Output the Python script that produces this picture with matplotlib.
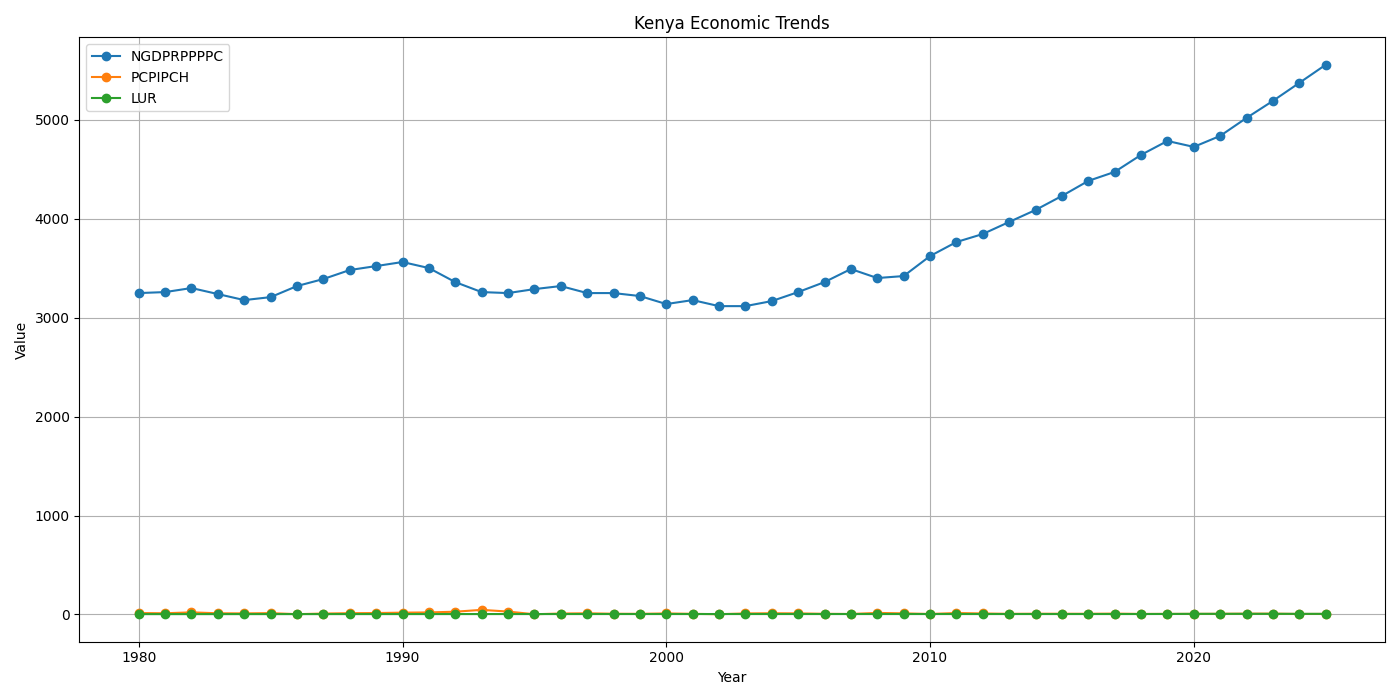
import numpy as np
import matplotlib.pyplot as plt

years = list(range(1980, 2026))

ngdp = [3249, 3259, 3300, 3239, 3178, 3208, 3320, 3391, 3482, 3522,
        3563, 3502, 3360, 3259, 3249, 3289, 3320, 3249, 3249, 3219,
        3138, 3178, 3117, 3117, 3168, 3259, 3360, 3492, 3401, 3421,
        3623, 3765, 3846, 3968, 4089, 4231, 4383, 4474, 4646, 4787,
        4727, 4838, 5020, 5192, 5374, 5557]

pcpi = [13.9, 11.6, 20.7, 11.4, 10.3, 13.0, 2.5, 8.6, 12.3, 13.8,
        17.8, 20.1, 27.3, 46.0, 28.8, 1.6, 9.0, 11.2, 6.6, 5.7,
        10.0, 5.7, 2.0, 9.8, 11.6, 10.3, 6.0, 4.3, 15.1, 10.6,
        4.3, 14.0, 9.4, 5.7, 6.9, 6.6, 6.3, 8.0, 4.7, 5.2,
        5.4, 6.1, 7.6, 7.7, 4.5, 5.0]

lur = [3.0, 3.0, 3.1, 3.1, 3.2, 3.2, 3.3, 3.3, 3.4, 3.4,
       3.5, 3.5, 3.6, 3.6, 3.7, 3.7, 3.8, 3.8, 3.9, 3.9,
       3.9, 3.9, 3.9, 3.9, 3.9, 3.9, 3.9, 3.9, 3.9, 3.9,
       3.9, 3.9, 3.9, 3.9, 3.9, 3.9, 3.9, 3.9, 4.0, 4.5,
       5.6, 5.6, 5.7, 5.6, 5.6, 5.6]

plt.figure(figsize=(14, 7), dpi=100)
plt.plot(years, ngdp, marker='o', label='NGDPRPPPPC')
plt.plot(years, pcpi, marker='o', label='PCPIPCH')
plt.plot(years, lur, marker='o', label='LUR')
plt.title('Kenya Economic Trends')
plt.xlabel('Year')
plt.ylabel('Value')
plt.grid(True)
plt.legend(loc='upper left')
plt.tight_layout()
plt.savefig('out.png', dpi=100)
